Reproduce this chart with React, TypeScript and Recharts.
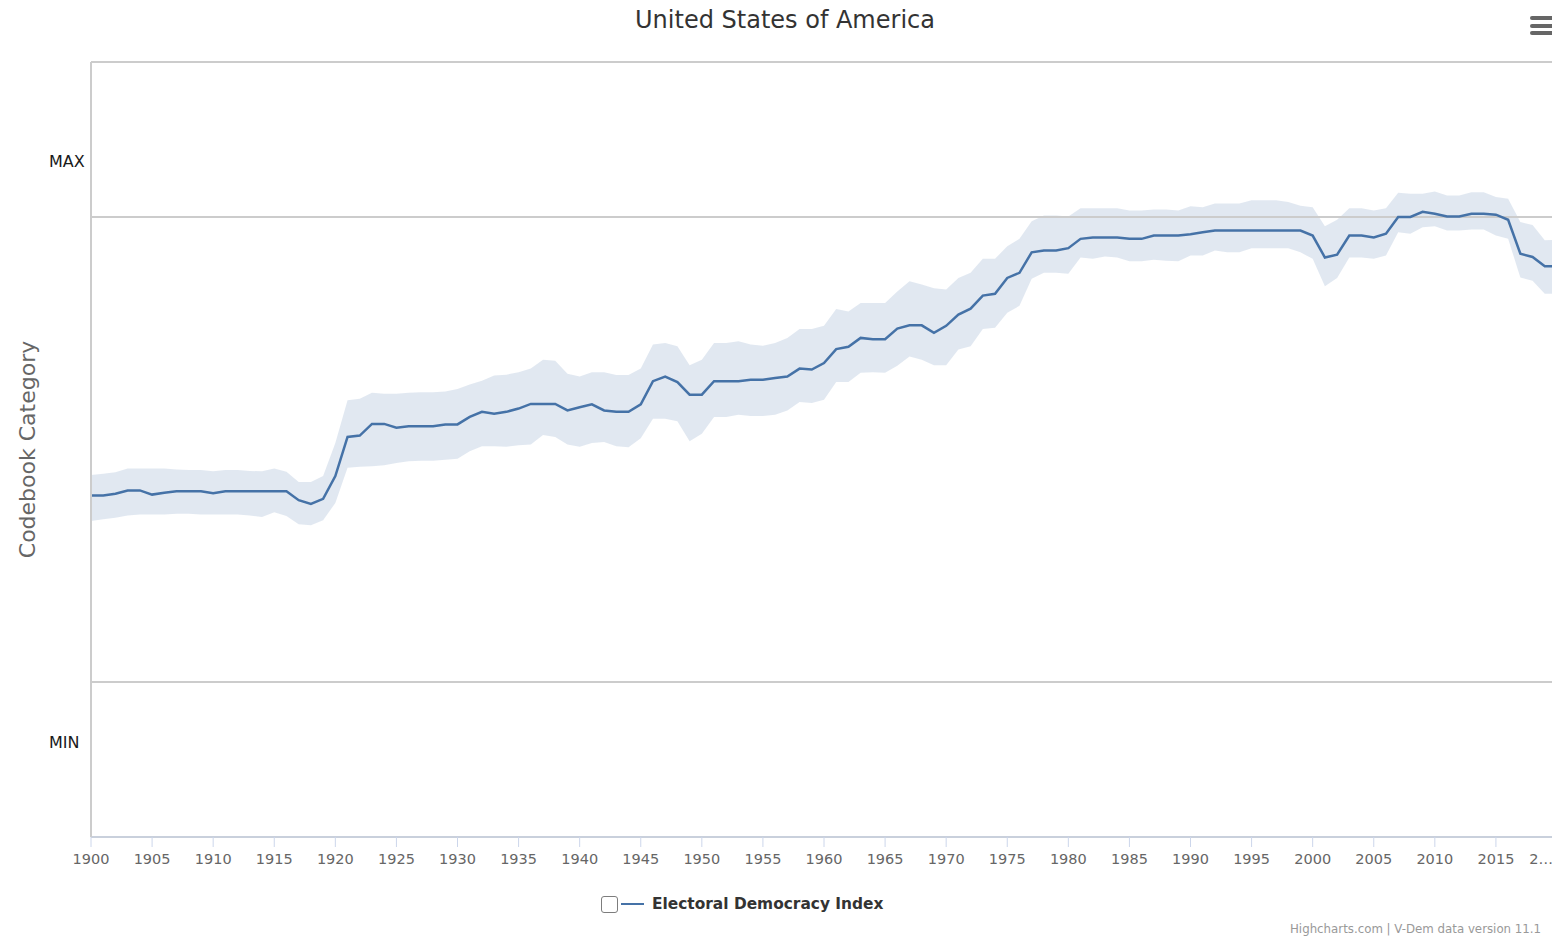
import React from "react";
import {
  ComposedChart,
  Area,
  Line,
  XAxis,
  YAxis,
  ReferenceLine,
  Label,
} from "recharts";

// Electoral Democracy Index, United States, 1900-2020
const FIRST_YEAR = 1900;

const edi = [
  0.401, 0.401, 0.405, 0.412, 0.412, 0.403, 0.407, 0.41, 0.41, 0.41,
  0.406, 0.41, 0.41, 0.41, 0.41, 0.41, 0.41, 0.391, 0.383, 0.394,
  0.443, 0.527, 0.53, 0.555, 0.555, 0.547, 0.55, 0.55, 0.55, 0.554,
  0.554, 0.57, 0.581, 0.577, 0.581, 0.588, 0.598, 0.598, 0.598, 0.584,
  0.591, 0.597, 0.584, 0.581, 0.581, 0.597, 0.647, 0.657, 0.645, 0.618,
  0.618, 0.647, 0.647, 0.647, 0.65, 0.65, 0.654, 0.657, 0.674, 0.672,
  0.686, 0.716, 0.721, 0.74, 0.737, 0.737, 0.76, 0.767, 0.767, 0.751,
  0.766, 0.79, 0.803, 0.831, 0.835, 0.869, 0.88, 0.924, 0.928, 0.928,
  0.933, 0.953, 0.956, 0.956, 0.956, 0.953, 0.953, 0.96, 0.96, 0.96,
  0.963, 0.967, 0.971, 0.971, 0.971, 0.971, 0.971, 0.971, 0.971, 0.971,
  0.96, 0.913, 0.919, 0.96, 0.96, 0.956, 0.964, 1.0, 1.0, 1.011,
  1.007, 1.001, 1.001, 1.007, 1.007, 1.005, 0.994, 0.921, 0.914, 0.894,
  0.894,
];

const ediHigh = [
  0.445, 0.448, 0.451, 0.459, 0.459, 0.459, 0.459, 0.457, 0.456, 0.456,
  0.453, 0.456, 0.456, 0.454, 0.453, 0.459, 0.452, 0.43, 0.43, 0.443,
  0.514, 0.606, 0.609, 0.622, 0.62, 0.62, 0.622, 0.623, 0.623, 0.625,
  0.63, 0.64, 0.648, 0.659, 0.661, 0.666, 0.674, 0.693, 0.691, 0.663,
  0.657, 0.666, 0.666, 0.66, 0.66, 0.674, 0.726, 0.729, 0.722, 0.681,
  0.693, 0.729, 0.729, 0.733, 0.726, 0.723, 0.729, 0.74, 0.759, 0.759,
  0.766, 0.802, 0.797, 0.815, 0.815, 0.815, 0.84, 0.862, 0.855, 0.847,
  0.844, 0.869, 0.88, 0.91, 0.91, 0.937, 0.953, 0.991, 1.003, 1.003,
  1.001, 1.019, 1.019, 1.019, 1.019, 1.014, 1.014, 1.016, 1.016, 1.014,
  1.023, 1.021, 1.029, 1.029, 1.029, 1.036, 1.036, 1.036, 1.032, 1.024,
  1.021, 0.98, 0.994, 1.019, 1.019, 1.014, 1.019, 1.052, 1.05, 1.05,
  1.055, 1.046, 1.046, 1.053, 1.053, 1.043, 1.039, 0.989, 0.983, 0.95,
  0.951,
];

const ediLow = [
  0.346, 0.35, 0.353, 0.358, 0.36, 0.36, 0.36, 0.362, 0.362, 0.36,
  0.36, 0.36, 0.36, 0.358, 0.355, 0.365, 0.357, 0.339, 0.337, 0.348,
  0.385, 0.461, 0.463, 0.464, 0.466, 0.471, 0.475, 0.476, 0.476, 0.478,
  0.48, 0.496, 0.507, 0.507, 0.506, 0.509, 0.511, 0.531, 0.527, 0.511,
  0.506, 0.514, 0.516, 0.507, 0.505, 0.524, 0.566, 0.566, 0.561, 0.518,
  0.534, 0.57, 0.57, 0.575, 0.572, 0.572, 0.575, 0.584, 0.602, 0.6,
  0.607, 0.645, 0.645, 0.665, 0.666, 0.665, 0.68, 0.7, 0.693, 0.681,
  0.681, 0.715, 0.722, 0.759, 0.762, 0.794, 0.809, 0.867, 0.88, 0.88,
  0.878, 0.913, 0.91, 0.915, 0.913, 0.905, 0.905, 0.908, 0.906, 0.905,
  0.917, 0.917, 0.928, 0.924, 0.924, 0.933, 0.933, 0.933, 0.933, 0.924,
  0.91, 0.851, 0.869, 0.913, 0.913, 0.91, 0.917, 0.967, 0.964, 0.978,
  0.98, 0.971, 0.971, 0.973, 0.973, 0.96, 0.953, 0.87, 0.863, 0.835,
  0.835,
];

const xTicks = [
  1900, 1905, 1910, 1915, 1920, 1925, 1930, 1935, 1940, 1945, 1950, 1955,
  1960, 1965, 1970, 1975, 1980, 1985, 1990, 1995, 2000, 2005, 2010, 2015, 2020,
];
const xTickLabels = [
  "1900", "1905", "1910", "1915", "1920", "1925", "1930", "1935", "1940",
  "1945", "1950", "1955", "1960", "1965", "1970", "1975", "1980", "1985",
  "1990", "1995", "2000", "2005", "2010", "2015", "2…",
];

const yTicks = [-0.13, 1.12];
const yTickLabels = ["MIN", "MAX"];
const categoryLines = [0, 1];
const Y_DOMAIN: [number, number] = [-1 / 3, 4 / 3];

const TITLE = "United States of America";
const SERIES_NAME = "Electoral Democracy Index";
const AXIS_TITLE = "Codebook Category";
const CREDITS = "Highcharts.com | V-Dem data version 11.1";

const BLUE = "#4572a7";
const FONT = "'DejaVu Sans', Verdana, sans-serif";

const data = edi.map((v, i) => ({
  year: FIRST_YEAR + i,
  edi: v,
  range: [ediLow[i], ediHigh[i]],
}));

function XTick(props: any) {
  const { x, y, payload } = props;
  const idx = xTicks.indexOf(payload.value);
  const label = idx >= 0 ? xTickLabels[idx] : String(payload.value);
  const cut = label.endsWith("…");
  return (
    <text
      x={cut ? x - 4 : x}
      y={y}
      dy="0.71em"
      textAnchor={cut ? "end" : "middle"}
      fill="#666"
      fontSize={14.5}
      fontFamily={FONT}
    >
      {label}
    </text>
  );
}

// labels sit left-aligned in the axis gutter, as in the original
function YTick(props: any) {
  const { x, y, payload } = props;
  const idx = yTicks.indexOf(payload.value);
  return (
    <text x={x} y={y} dy="0.355em" textAnchor="start" fill="#1a1a1a" fontSize={16} fontFamily={FONT}>
      {idx >= 0 ? yTickLabels[idx] : ""}
    </text>
  );
}

function AxisTitle(props: any) {
  const vb = props.viewBox || { x: 0, y: 0, width: 0, height: 0 };
  const cx = vb.x + 27;
  const cy = vb.y + vb.height / 2;
  return (
    <text
      x={cx}
      y={cy}
      transform={`rotate(-90 ${cx} ${cy})`}
      textAnchor="middle"
      dy="0.355em"
      fill="#666"
      fontSize={22}
      fontFamily={FONT}
    >
      {AXIS_TITLE}
    </text>
  );
}

export default function App() {
  return (
    <div
      style={{
        position: "fixed",
        left: 0,
        top: 0,
        width: 1552,
        height: 937,
        overflow: "hidden",
        background: "#fff",
        fontFamily: FONT,
      }}
    >
      <div style={{ position: "relative", width: 1570, height: 937 }}>
        <ComposedChart
          width={1570}
          height={937}
          data={data}
          margin={{ top: 62, right: 13, bottom: 70, left: 0 }}
        >
          <XAxis
            dataKey="year"
            type="number"
            domain={[1900, 2020]}
            ticks={xTicks}
            interval={0}
            height={30}
            tickSize={10}
            tickMargin={7}
            axisLine={{ stroke: "#c9d0dc", strokeWidth: 2 }}
            tickLine={{ stroke: "#ccd6eb" }}
            tick={<XTick />}
          />
          <YAxis
            type="number"
            domain={Y_DOMAIN}
            ticks={yTicks}
            interval={0}
            width={91}
            tickSize={0}
            tickMargin={42}
            axisLine={{ stroke: "#cccccc", strokeWidth: 2 }}
            tickLine={false}
            tick={<YTick />}
            allowDataOverflow
          >
            <Label content={<AxisTitle />} />
          </YAxis>
          <ReferenceLine y={Y_DOMAIN[1]} stroke="#cccccc" strokeWidth={2} />
          {categoryLines.map((v) => (
            <ReferenceLine key={v} y={v} stroke="#cccccc" strokeWidth={2} />
          ))}
          <Area
            type="linear"
            dataKey="range"
            stroke="none"
            fill={BLUE}
            fillOpacity={0.16}
            dot={false}
            activeDot={false}
            isAnimationActive={false}
          />
          <Line
            type="linear"
            dataKey="edi"
            stroke={BLUE}
            strokeWidth={2.5}
            dot={false}
            activeDot={false}
            isAnimationActive={false}
          />
        </ComposedChart>

        <div
          style={{
            position: "absolute",
            left: 0,
            top: 6,
            width: 1570,
            textAlign: "center",
            fontSize: 24,
            lineHeight: "28px",
            color: "#333",
          }}
        >
          {TITLE}
        </div>

        {[16, 24, 31].map((t) => (
          <div
            key={t}
            style={{
              position: "absolute",
              left: 1530,
              top: t,
              width: 26,
              height: 4,
              borderRadius: 2,
              background: "#666",
            }}
          />
        ))}

        <div
          style={{
            position: "absolute",
            left: 601,
            top: 895,
            height: 18,
            display: "flex",
            alignItems: "center",
            whiteSpace: "nowrap",
          }}
        >
          <span
            style={{
              display: "inline-block",
              width: 15,
              height: 15,
              border: "1.5px solid #7d7d7d",
              borderRadius: 3,
              boxSizing: "content-box",
            }}
          />
          <span
            style={{
              display: "inline-block",
              width: 23,
              height: 2.5,
              background: BLUE,
              marginLeft: 3,
            }}
          />
          <span
            style={{
              marginLeft: 8,
              fontSize: 15.4,
              fontWeight: "bold",
              color: "#333",
            }}
          >
            {SERIES_NAME}
          </span>
        </div>

        <div
          style={{
            position: "absolute",
            left: 1290,
            top: 922,
            fontSize: 11.8,
            lineHeight: "15px",
            color: "#999",
            whiteSpace: "nowrap",
          }}
        >
          {CREDITS}
        </div>
      </div>
    </div>
  );
}
